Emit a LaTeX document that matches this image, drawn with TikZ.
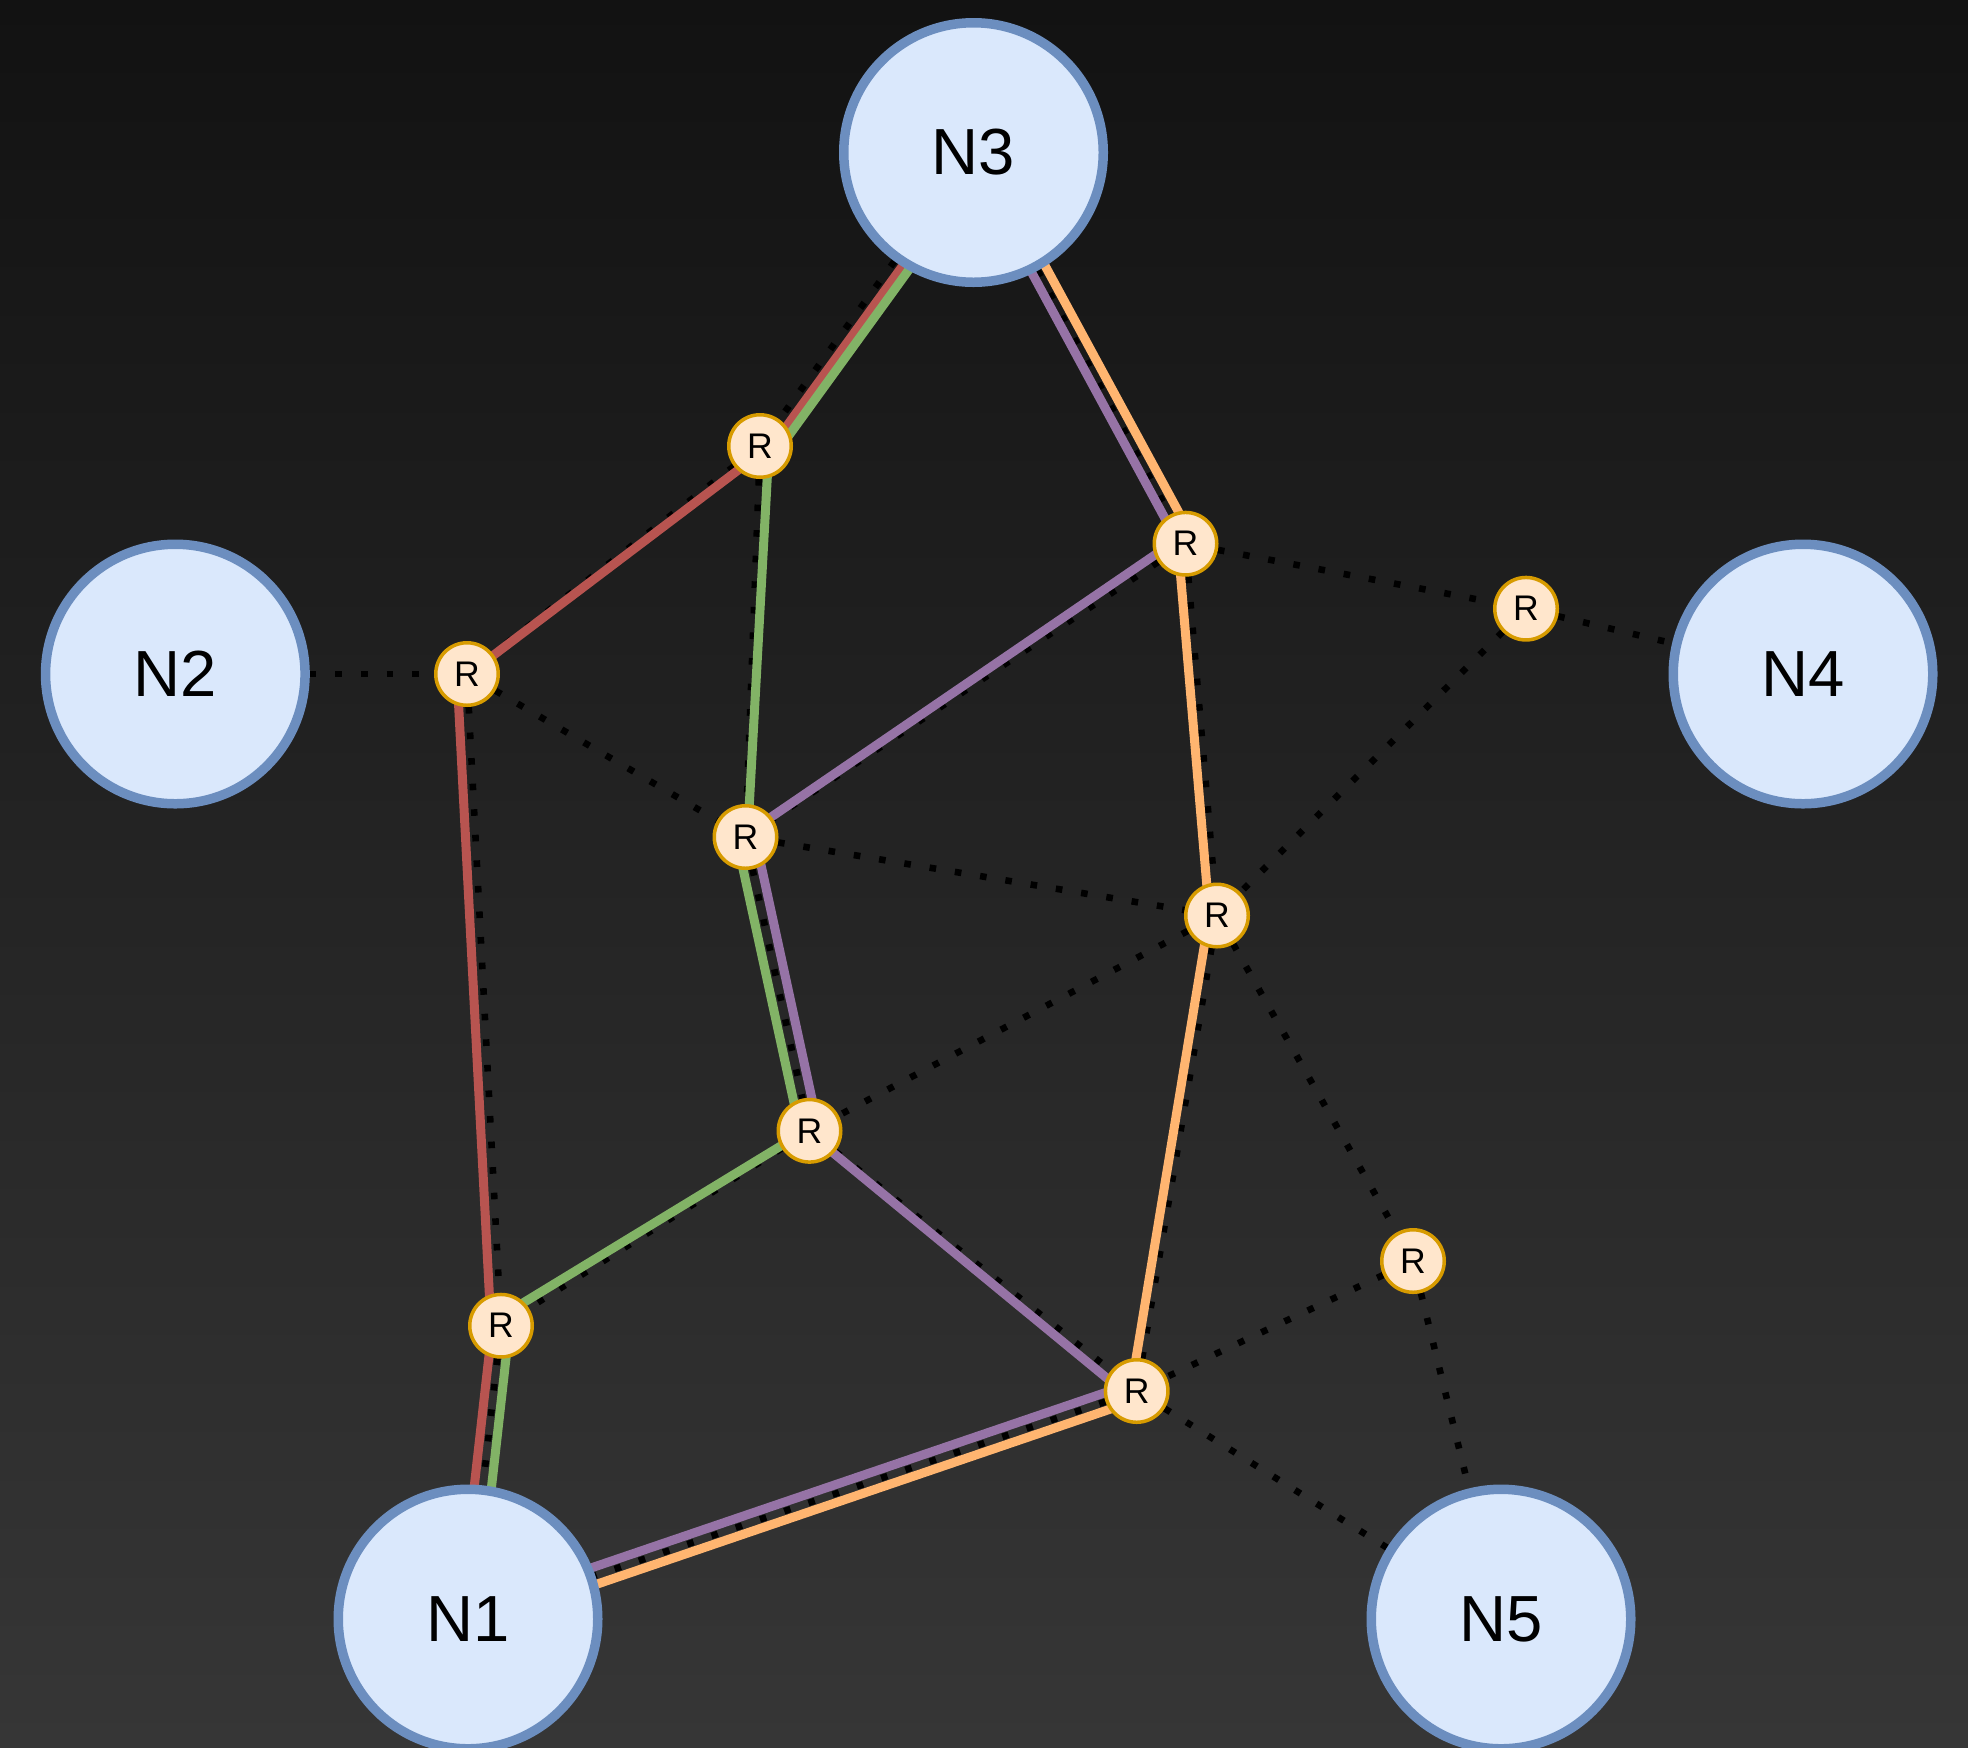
\documentclass[tikz,border=0pt]{standalone}
\usepackage{fontspec}
\setmainfont{Liberation Sans}
\usetikzlibrary{calc}

\pgfdeclarelayer{bg}
\pgfdeclarelayer{links}
\pgfsetlayers{bg,links,main}

\definecolor{bgtop}{RGB}{18,18,18}
\definecolor{bgbot}{RGB}{54,54,54}
\definecolor{hostfill}{HTML}{DAE8FC}
\definecolor{hostline}{HTML}{6C8EBF}
\definecolor{rfill}{HTML}{FFE6CC}
\definecolor{rline}{HTML}{D79B00}
\definecolor{pred}{HTML}{B85450}
\definecolor{pgreen}{HTML}{82B366}
\definecolor{ppurple}{HTML}{9673A6}
\definecolor{porange}{HTML}{FFB570}

\tikzset{
  host/.style={circle, draw=hostline, fill=hostfill, line width=4.75pt,
    minimum size=129.75pt, inner sep=0pt, font=\fontsize{32.6}{38}\selectfont},
  router/.style={circle, draw=rline, fill=rfill, line width=1.75pt,
    minimum size=31.25pt, inner sep=0pt, font=\fontsize{17.8}{21}\selectfont},
  link/.style={black, line width=3.3pt, dash pattern=on 3.3pt off 9.5pt},
  pathline/.style={line width=4.5pt},
}

% a coloured route segment running alongside a link;
% #4 and #5 are the side offsets at #2 and at #3,
% positive = left of the direction #2 -> #3
\newcommand{\route}[5]{%
  \draw[pathline,#1] ($(#2)!#4!90:(#3)$) -- ($(#3)!#5!-90:(#2)$);}

\begin{document}
\begin{tikzpicture}[x=0.5pt,y=-0.5pt]
\useasboundingbox (0,0) rectangle (1968,1747);
\begin{pgfonlayer}{bg}
  \fill[top color=bgtop, bottom color=bgbot] (0,0) rectangle (1968,1747);
\end{pgfonlayer}

% hosts
\node[host] (N3) at (973.5,152.5) {N3};
\node[host] (N2) at (175.3,674) {N2};
\node[host] (N4) at (1803,674) {N4};
\node[host] (N1) at (468,1619) {N1};
\node[host] (N5) at (1501,1619) {N5};

% routers
\node[router] (Ra) at (760,446) {R};
\node[router] (Rb) at (1185.5,543.7) {R};
\node[router] (Rc) at (1526,608.7) {R};
\node[router] (Rd) at (467,674) {R};
\node[router] (Re) at (745.5,837) {R};
\node[router] (Rf) at (1217,915.5) {R};
\node[router] (Rg) at (809.5,1130.8) {R};
\node[router] (Rh) at (1413,1261) {R};
\node[router] (Ri) at (501,1325.7) {R};
\node[router] (Rj) at (1136.7,1391) {R};

\begin{pgfonlayer}{links}
  % physical links
  \foreach \a/\b in {N3/Ra, N3/Rb, Ra/Rd, Ra/Re, Rb/Re, Rb/Rc, Rb/Rf,
      Rc/N4, Rc/Rf, N2/Rd, Rd/Re, Rd/Ri, Re/Rf, Re/Rg, Rf/Rg, Rf/Rh,
      Rf/Rj, Rg/Ri, Rg/Rj, Ri/N1, Rj/N1, Rh/Rj, Rh/N5, Rj/N5}
    \draw[link] (\a) -- (\b);

  % red route
  \route{pred}{Ra}{N3}{-5pt}{-4.5pt}
  \route{pred}{Ra}{Rd}{3pt}{0.5pt}
  \route{pred}{Rd}{Ri}{-5pt}{-5pt}
  \route{pred}{Ri}{N1}{-4.3pt}{-4.3pt}
  % green route
  \route{pgreen}{Ra}{N3}{-8.6pt}{-8.2pt}
  \route{pgreen}{Ra}{Re}{4.5pt}{1pt}
  \route{pgreen}{Re}{Rg}{-4.6pt}{-4.6pt}
  \route{pgreen}{Rg}{Ri}{-1pt}{-4pt}
  \route{pgreen}{Ri}{N1}{4.3pt}{4.3pt}
  % purple route
  \route{ppurple}{N3}{Rb}{-3pt}{-3pt}
  \route{ppurple}{Rb}{Re}{-4pt}{-1pt}
  \route{ppurple}{Re}{Rg}{4.6pt}{4.6pt}
  \route{ppurple}{Rg}{Rj}{-1pt}{-4.5pt}
  \route{ppurple}{Rj}{N1}{-4.3pt}{-4.3pt}
  % orange route
  \route{porange}{N3}{Rb}{4.5pt}{4.5pt}
  \route{porange}{Rb}{Rf}{-3.8pt}{-3.8pt}
  \route{porange}{Rf}{Rj}{-3.8pt}{-3pt}
  \route{porange}{Rj}{N1}{4.3pt}{4.3pt}
\end{pgfonlayer}
\end{tikzpicture}
\end{document}
